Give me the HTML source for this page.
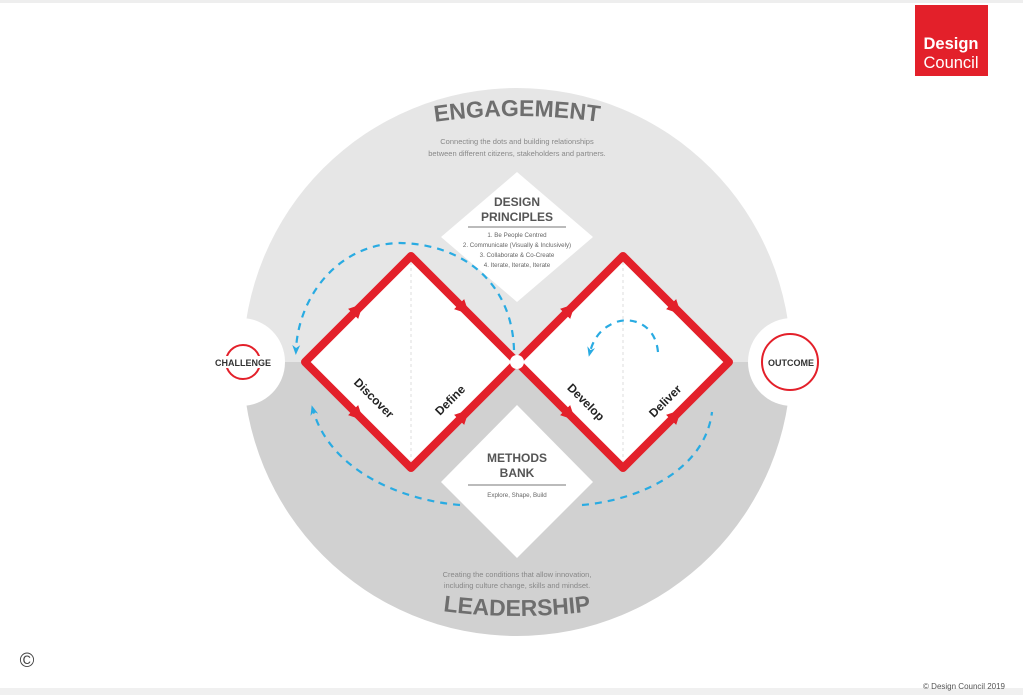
<!DOCTYPE html>
<html><head><meta charset="utf-8"><style>
html,body{margin:0;padding:0;background:#fff;}
body{width:1023px;height:695px;overflow:hidden;position:relative;font-family:"Liberation Sans",sans-serif;}
</style></head><body>
<svg width="1023" height="695" viewBox="0 0 1023 695" xmlns="http://www.w3.org/2000/svg" style="position:absolute;left:0;top:0">
<defs>
<clipPath id="top"><rect x="0" y="0" width="1023" height="362"/></clipPath>
<clipPath id="bot"><rect x="0" y="362" width="1023" height="400"/></clipPath>
<marker id="ar" viewBox="0 0 10 10" refX="5" refY="5" markerWidth="2.4" markerHeight="2.4" orient="auto"><path d="M0,0 L10,5 L0,10 Z" fill="#e3202a"/></marker>
<marker id="ba" viewBox="0 0 10 10" refX="5" refY="5" markerWidth="4.5" markerHeight="4.5" orient="auto"><path d="M0,1 L10,5 L0,9 L3,5 Z" fill="#29abe2"/></marker>
<path id="engArc" d="M400,128 Q517,104 634,128"/>
<path id="leadArc" d="M400,604 Q517,628 634,604"/>
</defs>
<rect x="0" y="0" width="1023" height="3" fill="#eeeeee"/>
<rect x="0" y="688" width="1023" height="7" fill="#f0f0f0"/>
<circle cx="517" cy="362" r="274" fill="#e6e6e6" clip-path="url(#top)"/>
<circle cx="517" cy="362" r="274" fill="#d1d1d1" clip-path="url(#bot)"/>
<circle cx="241" cy="362" r="44" fill="#fff"/>
<circle cx="792" cy="362" r="44" fill="#fff"/>
<polygon points="305,362 411,256 517,362 411,468" fill="#fff"/>
<polygon points="517,362 623,256 729,362 623,468" fill="#fff"/>
<line x1="411" y1="262" x2="411" y2="462" stroke="#ddd" stroke-dasharray="3,3"/>
<line x1="623" y1="262" x2="623" y2="462" stroke="#ddd" stroke-dasharray="3,3"/>
<polygon points="517,172 593,237 517,302 441,237" fill="#fff"/>
<polygon points="517,405 593,482 517,558 441,482" fill="#fff"/>
<g stroke="#e3202a" stroke-width="8" fill="none" stroke-linejoin="round">
<polygon points="305,362 411,256 517,362 411,468"/>
<polygon points="517,362 623,256 729,362 623,468"/>
</g>
<g stroke="none">
<path d="M358,309 L358.1,308.9" stroke="#e3202a" stroke-width="6" marker-end="url(#ar)"/>
<path d="M464,309 L464.1,309.1" stroke="#e3202a" stroke-width="6" marker-end="url(#ar)"/>
<path d="M358,415 L358.1,415.1" stroke="#e3202a" stroke-width="6" marker-end="url(#ar)"/>
<path d="M464,415 L464.1,414.9" stroke="#e3202a" stroke-width="6" marker-end="url(#ar)"/>
<path d="M570,309 L570.1,308.9" stroke="#e3202a" stroke-width="6" marker-end="url(#ar)"/>
<path d="M676,309 L676.1,309.1" stroke="#e3202a" stroke-width="6" marker-end="url(#ar)"/>
<path d="M570,415 L570.1,415.1" stroke="#e3202a" stroke-width="6" marker-end="url(#ar)"/>
<path d="M676,415 L676.1,414.9" stroke="#e3202a" stroke-width="6" marker-end="url(#ar)"/>
</g>
<circle cx="517" cy="362" r="7" fill="#fff"/>
<g stroke="#29abe2" stroke-width="2.2" fill="none" stroke-dasharray="7,6">
<path d="M514,350 C512,280 460,244 400,243 C335,244 298,300 296,350" marker-end="url(#ba)"/>
<path d="M460,505 C400,500 330,470 313,410" marker-end="url(#ba)"/>
<path d="M582,505 C640,500 705,470 712,412"/>
<path d="M658,352 C655,320 625,315 610,325 C600,330 593,340 590,352" marker-end="url(#ba)"/>
</g>
<circle cx="243" cy="362" r="17" fill="none" stroke="#e3202a" stroke-width="2"/>
<rect x="212" y="356" width="62" height="12" fill="#fff"/>
<text x="243" y="366" font-size="9" font-weight="bold" fill="#333" text-anchor="middle">CHALLENGE</text>
<circle cx="790" cy="362" r="28" fill="none" stroke="#e3202a" stroke-width="2"/>
<text x="791" y="366" font-size="9" font-weight="bold" fill="#333" text-anchor="middle">OUTCOME</text>
<text font-size="23" font-weight="bold" fill="#6e6e6e" text-anchor="middle"><textPath href="#engArc" startOffset="50%">ENGAGEMENT</textPath></text>
<text font-size="23" font-weight="bold" fill="#6e6e6e" text-anchor="middle"><textPath href="#leadArc" startOffset="50%">LEADERSHIP</textPath></text>
<g font-size="7.5" fill="#888" text-anchor="middle">
<text x="517" y="144">Connecting the dots and building relationships</text>
<text x="517" y="156">between different citizens, stakeholders and partners.</text>
<text x="517" y="577">Creating the conditions that allow innovation,</text>
<text x="517" y="588">including culture change, skills and mindset.</text>
</g>
<g text-anchor="middle" fill="#555" font-weight="bold" font-size="12">
<text x="517" y="206">DESIGN</text>
<text x="517" y="221">PRINCIPLES</text>
<text x="517" y="462">METHODS</text>
<text x="517" y="477">BANK</text>
</g>
<line x1="468" y1="227" x2="566" y2="227" stroke="#777" stroke-width="1"/>
<line x1="468" y1="485" x2="566" y2="485" stroke="#777" stroke-width="1"/>
<g text-anchor="middle" fill="#666" font-size="6.2">
<text x="517" y="237">1. Be People Centred</text>
<text x="517" y="247">2. Communicate (Visually &amp; Inclusively)</text>
<text x="517" y="257">3. Collaborate &amp; Co-Create</text>
<text x="517" y="267">4. Iterate, Iterate, Iterate</text>
<text x="517" y="497">Explore, Shape, Build</text>
</g>
<g font-size="12" font-weight="bold" fill="#222" text-anchor="middle">
<text transform="translate(371,401) rotate(45)">Discover</text>
<text transform="translate(453,403) rotate(-45)">Define</text>
<text transform="translate(583,405) rotate(45)">Develop</text>
<text transform="translate(668,404) rotate(-45)">Deliver</text>
</g>
<rect x="915" y="5" width="73" height="71" fill="#e3202a"/>
<text x="951" y="49" font-size="16.5" font-weight="bold" fill="#fff" text-anchor="middle">Design</text>
<text x="951" y="68" font-size="16.5" fill="#fff" text-anchor="middle">Council</text>
<text x="27" y="667" font-size="20" fill="#444" text-anchor="middle">©</text>
<text x="1005" y="689" font-size="8" fill="#555" text-anchor="end">© Design Council 2019</text>
</svg>
</body></html>
